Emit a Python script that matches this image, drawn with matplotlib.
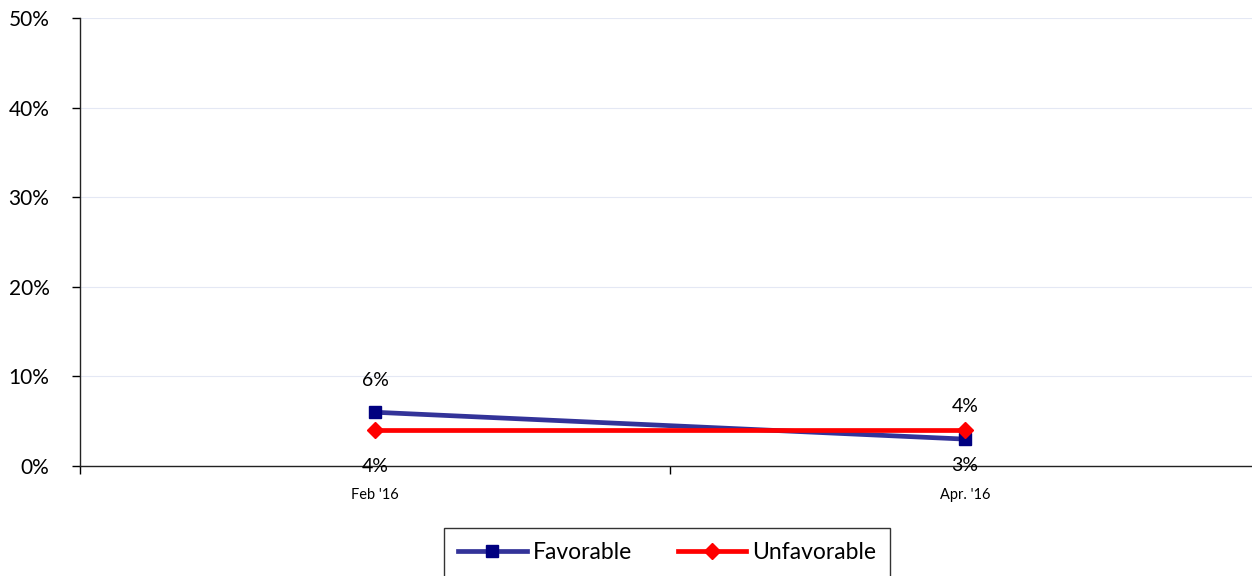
import matplotlib.pyplot as plt
from matplotlib.ticker import FuncFormatter

plt.rcParams['font.family'] = ['Lato', 'DejaVu Sans']

periods = ["Feb '16", "Apr. '16"]
favorable = [6, 3]
unfavorable = [4, 4]
# label offsets in pixels (positive = above the point)
fav_off = [32, -26]
unfav_off = [-36, 24]

W, H = 1252, 576
fig = plt.figure(figsize=(W / 100, H / 100), dpi=100)
ax = fig.add_axes([80 / W, (H - 466) / H, (1260 - 80) / W, (466 - 18) / H])

x = list(range(len(periods)))
ax.plot(x, favorable, color="#333399", lw=3.4, marker="s", ms=8,
        mfc="#000080", mec="#000080", label="Favorable", zorder=3)
ax.plot(x, unfavorable, color="#ff0000", lw=3.4, marker="D", ms=8,
        mfc="#ff0000", mec="#ff0000", label="Unfavorable", zorder=4)

for vals, offs in [(favorable, fav_off), (unfavorable, unfav_off)]:
    for xi, v, o in zip(x, vals, offs):
        ax.annotate(f"{v}%", (xi, v), xytext=(0, o * 0.72), textcoords="offset points",
                    ha="center", va="center", fontsize=14)

ax.set_xlim(-0.5, len(periods) - 0.5)
ax.set_ylim(0, 50)
ax.set_yticks(range(0, 51, 10))
ax.yaxis.set_major_formatter(FuncFormatter(lambda v, _: f"{v:.0f}%"))
ax.tick_params(axis="y", labelsize=15, length=6, width=1, direction="out", pad=16)
ax.grid(axis="y", color="#e4e8f4", lw=0.8)
ax.set_axisbelow(True)

ax.set_xticks([i - 0.5 for i in range(len(periods) + 1)])
ax.set_xticklabels([])
ax.set_xticks(x, minor=True)
ax.set_xticklabels(periods, minor=True)
ax.tick_params(axis="x", which="major", length=6, width=1, direction="out")
ax.tick_params(axis="x", which="minor", length=0, labelsize=10.5, pad=16)

for s in ["top", "right"]:
    ax.spines[s].set_visible(False)
for s in ["left", "bottom"]:
    ax.spines[s].set_color("#222222")
    ax.spines[s].set_linewidth(1)

leg = fig.legend(loc="upper center", bbox_to_anchor=(667 / W, (H - 528) / H), ncol=2,
                 fontsize=16.5, frameon=True, fancybox=False, edgecolor="black",
                 handlelength=3.0, columnspacing=2.0, handletextpad=0.25,
                 borderpad=0.6, borderaxespad=0)
leg.get_frame().set_linewidth(1)

fig.savefig("out.png", dpi=100)
